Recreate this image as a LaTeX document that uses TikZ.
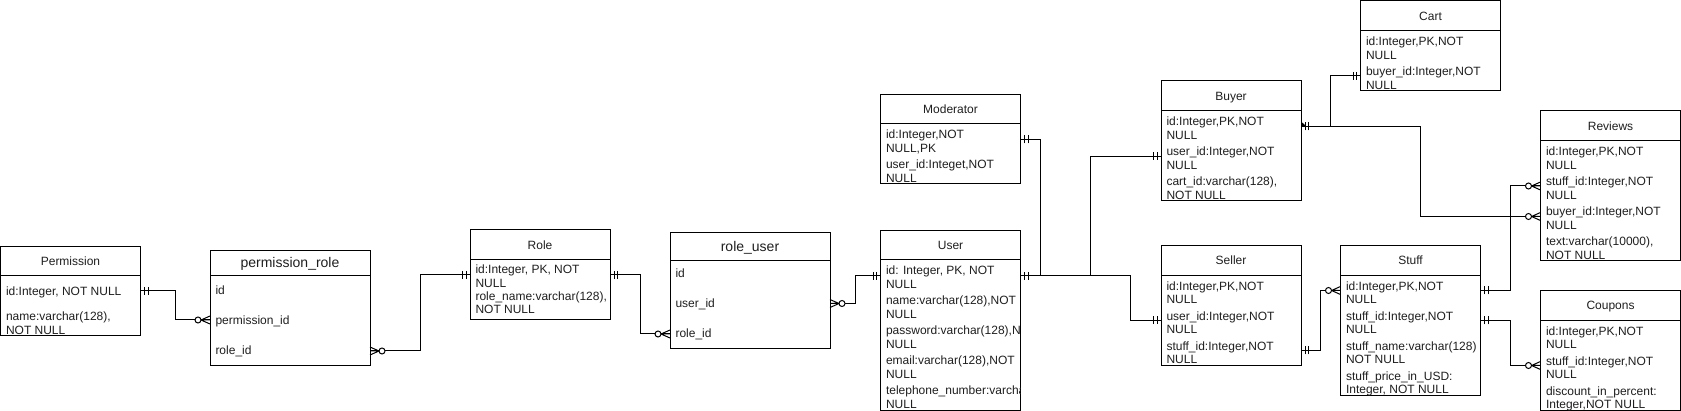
\documentclass[tikz,border=0pt]{standalone}
\usepackage{fontspec}
\setmainfont{Liberation Sans}
\usetikzlibrary{calc}
\newcommand{\fs}{\fontsize{12}{13.5}\selectfont}
\newcommand{\fsb}{\fontsize{14}{16}\selectfont}
\tikzset{
  ehead/.style={draw, fill=white, line width=1pt, inner sep=0pt, outer sep=0pt, anchor=north west,
    font=\fs, text=black!88, text height=8.6pt, text depth=0pt},
  ebody/.style={draw, fill=white, line width=1pt, inner sep=0pt, outer sep=0pt, anchor=north west},
  ftext/.style={anchor=base west, inner sep=0pt, outer sep=0pt, font=\fs, text=black!88},
  conn/.style={line width=1pt, black},
  mone/.pic={\draw[line width=1pt] (-4,-4) -- (-4,4) (-7.5,-4) -- (-7.5,4);},
  zmany/.pic={\draw[line width=1pt] (0,-4) -- (-9,0) -- (0,4) (0,0) -- (-9,0);
              \draw[line width=1pt, fill=white] (-12,0) circle[radius=3];}
}
\newcommand{\ent}[7]{%
  \node[ehead, minimum width=#4pt, minimum height=#5pt] (#1H) at (#2,#3) {#7};
  \node[ebody, minimum width=#4pt, minimum height=#6pt] (#1) at (#1H.south west) {};}
\newcommand{\fl}[4]{\node[ftext] (#1) at (#2,#3) {#4};}
\begin{document}
\begin{tikzpicture}[x=1pt,y=-1pt]
\useasboundingbox (0,0) rectangle (1681,411);
\fill[white] (0,0) rectangle (1681,411);

% entities
\ent{perm}{0.5}{246.5}{140}{29.5}{60}{Permission}
\ent{pr}{210}{250.5}{160}{25.5}{90}{\fsb permission\_role}
\ent{role}{470}{230}{140}{30}{59.5}{Role}
\ent{ru}{670}{233}{160}{27.5}{88.5}{\fsb role\_user}
\ent{mod}{880.5}{95}{140}{29}{60}{Moderator}
\ent{user}{880.5}{230.5}{140}{29.5}{150}{User}
\ent{buyer}{1161}{81}{140}{30}{90}{Buyer}
\ent{cart}{1360.5}{1}{140}{30}{60}{Cart}
\ent{rev}{1540.5}{111}{140}{30}{120}{Reviews}
\ent{seller}{1161}{245.5}{140}{30}{90}{Seller}
\ent{stuff}{1340.5}{245.5}{140}{30}{120}{Stuff}
\ent{coup}{1540.5}{290.5}{140}{30}{90}{Coupons}

% fields
\fl{permA}{6}{295.5}{id:Integer, NOT NULL}
\fl{permB1}{6}{321}{name:varchar(128),}
\fl{permB2}{6}{334.5}{NOT NULL}

\fl{prA}{215.5}{295}{id}
\fl{prB}{215.5}{324.5}{permission\_id}
\fl{prC}{215.5}{355}{role\_id}

\fl{roleA1}{475.5}{274}{id:Integer, PK, NOT}
\fl{roleA2}{475.5}{287.5}{NULL}
\fl{roleB1}{475.5}{300.5}{role\_name:varchar(128),}
\fl{roleB2}{475.5}{314}{NOT NULL}

\fl{ruA}{675.5}{278}{id}
\fl{ruB}{675.5}{308}{user\_id}
\fl{ruC}{675.5}{338}{role\_id}

\fl{modA1}{886}{139}{id:Integer,NOT}
\fl{modA2}{886}{152.5}{NULL,PK}
\fl{modB1}{886}{169}{user\_id:Integet,NOT}
\fl{modB2}{886}{182.5}{NULL}

\begin{scope}
\clip (880.5,260) rectangle (1020,410);
\fl{userA1}{886}{275}{id: Integer, PK, NOT}
\fl{userA2}{886}{288.5}{NULL}
\fl{userB1}{886}{305}{name:varchar(128),NOT}
\fl{userB2}{886}{318.5}{NULL}
\fl{userC1}{886}{335}{password:varchar(128),NOT}
\fl{userC2}{886}{348.5}{NULL}
\fl{userD1}{886}{365}{email:varchar(128),NOT}
\fl{userD2}{886}{378.5}{NULL}
\fl{userE1}{886}{395}{telephone\_number:varchar(128),NOT}
\fl{userE2}{886}{408.5}{NULL}
\end{scope}

\fl{buyA1}{1166.5}{126}{id:Integer,PK,NOT}
\fl{buyA2}{1166.5}{139.5}{NULL}
\fl{buyB1}{1166.5}{156}{user\_id:Integer,NOT}
\fl{buyB2}{1166.5}{169.5}{NULL}
\fl{buyC1}{1166.5}{186}{cart\_id:varchar(128),}
\fl{buyC2}{1166.5}{199.5}{NOT NULL}

\fl{cartA1}{1366}{46}{id:Integer,PK,NOT}
\fl{cartA2}{1366}{59.5}{NULL}
\fl{cartB1}{1366}{76}{buyer\_id:Integer,NOT}
\fl{cartB2}{1366}{89.5}{NULL}

\fl{revA1}{1546}{156}{id:Integer,PK,NOT}
\fl{revA2}{1546}{169.5}{NULL}
\fl{revB1}{1546}{186}{stuff\_id:Integer,NOT}
\fl{revB2}{1546}{199.5}{NULL}
\fl{revC1}{1546}{216}{buyer\_id:Integer,NOT}
\fl{revC2}{1546}{229.5}{NULL}
\fl{revD1}{1546}{246}{text:varchar(10000),}
\fl{revD2}{1546}{259.5}{NOT NULL}

\fl{selA1}{1166.5}{290.5}{id:Integer,PK,NOT}
\fl{selA2}{1166.5}{304}{NULL}
\fl{selB1}{1166.5}{320.5}{user\_id:Integer,NOT}
\fl{selB2}{1166.5}{334}{NULL}
\fl{selC1}{1166.5}{350.5}{stuff\_id:Integer,NOT}
\fl{selC2}{1166.5}{364}{NULL}

\fl{stuA1}{1346}{290.5}{id:Integer,PK,NOT}
\fl{stuA2}{1346}{304}{NULL}
\fl{stuB1}{1346}{320.5}{stuff\_id:Integer,NOT}
\fl{stuB2}{1346}{334}{NULL}
\fl{stuC1}{1346}{350.5}{stuff\_name:varchar(128)}
\fl{stuC2}{1346}{364}{NOT NULL}
\fl{stuD1}{1346}{380.5}{stuff\_price\_in\_USD:}
\fl{stuD2}{1346}{394}{Integer, NOT NULL}

\fl{couA1}{1546}{335.5}{id:Integer,PK,NOT}
\fl{couA2}{1546}{349}{NULL}
\fl{couB1}{1546}{365.5}{stuff\_id:Integer,NOT}
\fl{couB2}{1546}{379}{NULL}
\fl{couC1}{1546}{395.5}{discount\_in\_percent:}
\fl{couC2}{1546}{409}{Integer,NOT NULL}

% ports
\coordinate (pPermR) at ([yshift=-15pt]perm.north east);
\coordinate (pPrL) at ([yshift=-44pt]pr.north west);
\coordinate (pPrR) at ([yshift=-75pt]pr.north east);
\coordinate (pRoleL) at ([yshift=-15pt]role.north west);
\coordinate (pRoleR) at ([yshift=-15pt]role.north east);
\coordinate (pRuL) at ([yshift=-73.5pt]ru.north west);
\coordinate (pRuR) at ([yshift=-43pt]ru.north east);
\coordinate (pUserL) at ([yshift=-16pt]user.north west);
\coordinate (pUserR) at ([yshift=-16pt]user.north east);
\coordinate (pModR) at ([yshift=-15.5pt]mod.north east);
\coordinate (pBuyL) at ([yshift=-45.5pt]buyer.north west);
\coordinate (pBuyR) at ([yshift=-15.5pt]buyer.north east);
\coordinate (pCartL) at ([yshift=-45pt]cart.north west);
\coordinate (pRevS) at ([yshift=-45pt]rev.north west);
\coordinate (pRevB) at ([yshift=-75.5pt]rev.north west);
\coordinate (pSelL) at ([yshift=-45pt]seller.north west);
\coordinate (pSelR) at ([yshift=-75pt]seller.north east);
\coordinate (pStuL) at ([yshift=-15pt]stuff.north west);
\coordinate (pStuR1) at ([yshift=-15pt]stuff.north east);
\coordinate (pStuR2) at ([yshift=-45pt]stuff.north east);
\coordinate (pCouL) at ([yshift=-45pt]coup.north west);

% connectors
\draw[conn] (pPermR) -- ++(35,0) |- (pPrL);
\draw[conn] (pPrR) -- ++(50,0) |- (pRoleL);
\draw[conn] (pRoleR) -- ++(30,0) |- (pRuL);
\draw[conn] (pRuR) -- ++(25,0) |- (pUserL);
\draw[conn] (pModR) -- ++(19.5,0) |- (pUserR);
\draw[conn] (pUserR) -- ++(69.5,0) |- (pBuyL);
\draw[conn] (pUserR) -- ++(109.5,0) |- (pSelL);
\draw[conn] (pBuyR) -- ++(29.5,0) |- (pCartL);
\draw[conn] (pBuyR) -- ++(119,0) |- (pRevB);
\draw[conn] (pSelR) -- ++(19.5,0) |- (pStuL);
\draw[conn] (pStuR1) -- ++(30,0) |- (pRevS);
\draw[conn] (pStuR2) -- ++(30,0) |- (pCouL);

% end markers
\foreach \p in {pPermR,pRoleR,pUserR,pModR,pBuyR,pSelR,pStuR1,pStuR2}
  {\pic[rotate=180] at (\p) {mone};}
\foreach \p in {pRoleL,pUserL,pBuyL,pSelL,pCartL}
  {\pic at (\p) {mone};}
\foreach \p in {pPrL,pRuL,pStuL,pRevS,pRevB,pCouL}
  {\pic at (\p) {zmany};}
\foreach \p in {pPrR,pRuR}
  {\pic[rotate=180] at (\p) {zmany};}
\fill[black] (pBuyR) ++(0,-5) -- ++(4.5,4) -- ++(-4.5,1.5) -- cycle;
\end{tikzpicture}
\end{document}
